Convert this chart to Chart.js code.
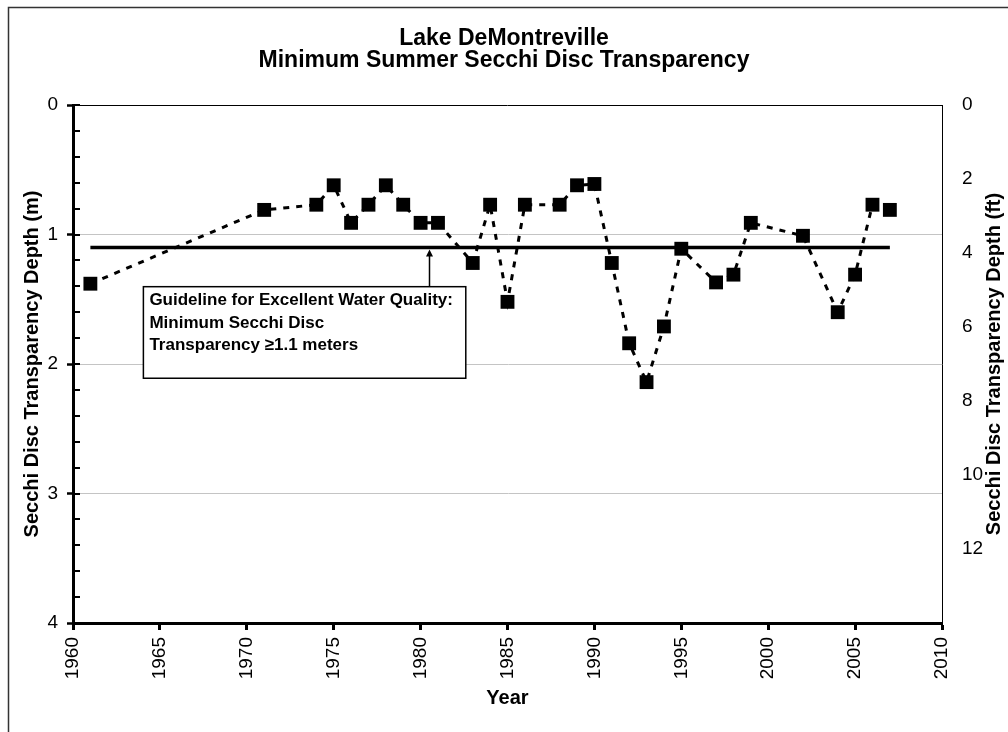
<!DOCTYPE html>
<html>
<head>
<meta charset="utf-8">
<title>Lake DeMontreville - Secchi</title>
<script src="https://cdn.jsdelivr.net/npm/chart.js@4.4.0/dist/chart.umd.min.js"></script>
<style>
  html, body { margin: 0; padding: 0; background: #fff; }
  canvas { display: block; }
</style>
</head>
<body>
<canvas id="secchiChart" width="1008" height="732"></canvas>
<script>
// Datos
const years = [1961, 1971, 1974, 1975, 1976, 1977, 1978, 1979, 1980, 1981,
               1983, 1984, 1985, 1986, 1988, 1989, 1990, 1991, 1992, 1993,
               1994, 1995, 1997, 1998, 1999, 2002, 2004, 2005, 2006, 2007];
const secchiDepth = [1.38, 0.81, 0.77, 0.62, 0.91, 0.77, 0.62, 0.77, 0.91, 0.91,
                     1.22, 0.77, 1.52, 0.77, 0.77, 0.62, 0.61, 1.22, 1.84, 2.14,
                     1.71, 1.11, 1.37, 1.31, 0.91, 1.01, 1.60, 1.31, 0.77, 0.81];

// Línea guía (1.1 m)
const guideYears = [1961, 2007];
const guideValue = 1.1;

const titleLines = ['Lake DeMontreville', 'Minimum Summer Secchi Disc Transparency'];
const noteLines = ['Guideline for Excellent Water Quality:', 'Minimum Secchi Disc', 'Transparency \u22651.1 meters'];
const yTitleLeft = 'Secchi Disc Transparency Depth (m)';
const yTitleRight = 'Secchi Disc Transparency Depth (ft)';
const xTitle = 'Year';

const FONT = "'Liberation Sans', Arial, sans-serif";
Chart.defaults.font.family = FONT;
Chart.defaults.color = '#000';

// Plugin: marco, ticks menores, título derecho y cuadro de texto
const extras = {
    id: 'extras',
    beforeDraw(chart) {
        const ctx = chart.ctx;
        ctx.save();
        ctx.fillStyle = '#fff';
        ctx.fillRect(0, 0, chart.width, chart.height);
        ctx.restore();
    },
    afterDraw(chart) {
        const ctx = chart.ctx;
        const a = chart.chartArea;
        const x = chart.scales.x;
        const y = chart.scales.y;
        ctx.save();

        // Borde exterior (el derecho y el inferior quedan fuera de la imagen)
        ctx.strokeStyle = '#333';
        ctx.lineWidth = 1.5;
        ctx.strokeRect(8.5, 7.5, 1010, 760);

        // Borde superior del área
        ctx.strokeStyle = '#000';
        ctx.lineWidth = 1;
        ctx.beginPath();
        ctx.moveTo(a.left, a.top + 0.5);
        ctx.lineTo(a.right, a.top + 0.5);
        ctx.stroke();

        // Ticks menores hacia dentro
        ctx.lineWidth = 2;
        for (let i = 0; i <= 20; i++) {
            const py = Math.round(y.getPixelForValue(i * 0.2));
            ctx.beginPath();
            ctx.moveTo(a.left, py);
            ctx.lineTo(a.left + 7, py);
            ctx.stroke();
        }

        // Título del eje derecho (de abajo hacia arriba)
        ctx.font = 'bold 20px ' + FONT;
        ctx.fillStyle = '#000';
        ctx.textAlign = 'center';
        ctx.textBaseline = 'middle';
        ctx.translate(994, (a.top + a.bottom) / 2);
        ctx.rotate(-Math.PI / 2);
        ctx.fillText(yTitleRight, 0, 0);
        ctx.restore();

        // Cuadro de la guía
        ctx.save();
        const bx1 = x.getPixelForValue(1964.05);
        const bx2 = x.getPixelForValue(1982.6);
        const by1 = y.getPixelForValue(1.403);
        const by2 = y.getPixelForValue(2.11);
        ctx.fillStyle = '#fff';
        ctx.fillRect(bx1, by1, bx2 - bx1, by2 - by1);
        ctx.strokeStyle = '#000';
        ctx.lineWidth = 1.5;
        ctx.strokeRect(bx1, by1, bx2 - bx1, by2 - by1);

        ctx.font = 'bold 17px ' + FONT;
        ctx.fillStyle = '#000';
        ctx.textAlign = 'left';
        ctx.textBaseline = 'middle';
        noteLines.forEach((t, i) => {
            ctx.fillText(t, bx1 + 6, by1 + 13.5 + i * 22.7);
        });

        // Flecha
        const ax = Math.round(x.getPixelForValue(1980.5)) + 0.5;
        const tip = y.getPixelForValue(1.115);
        ctx.lineWidth = 1.5;
        ctx.beginPath();
        ctx.moveTo(ax, by1);
        ctx.lineTo(ax, tip + 4);
        ctx.stroke();
        ctx.beginPath();
        ctx.moveTo(ax, tip);
        ctx.lineTo(ax - 3.5, tip + 7);
        ctx.lineTo(ax + 3.5, tip + 7);
        ctx.closePath();
        ctx.fill();
        ctx.restore();
    }
};

const ctx = document.getElementById('secchiChart').getContext('2d');

new Chart(ctx, {
    type: 'scatter',
    data: {
        datasets: [{
            label: 'Secchi',
            data: years.map((yr, i) => ({ x: yr, y: secchiDepth[i] })),
            showLine: true,
            borderColor: '#000',
            borderWidth: 3,
            borderDash: [6, 7],
            pointStyle: 'rect',
            pointRadius: 9.8,
            pointBackgroundColor: '#000',
            pointBorderWidth: 0,
            yAxisID: 'y'
        }, {
            label: 'Guideline',
            data: guideYears.map(yr => ({ x: yr, y: guideValue })),
            showLine: true,
            borderColor: '#000',
            borderWidth: 3.5,
            pointRadius: 0,
            yAxisID: 'y'
        }]
    },
    options: {
        responsive: false,
        animation: false,
        devicePixelRatio: 1,
        layout: { padding: 0 },
        plugins: {
            legend: { display: false },
            tooltip: { enabled: false },
            title: {
                display: true,
                text: titleLines,
                font: { size: 23, weight: 'bold', lineHeight: 22 / 23 },
                color: '#000',
                padding: { top: 28, bottom: 33 }
            }
        },
        scales: {
            x: {
                type: 'linear',
                min: 1960,
                max: 2010,
                ticks: {
                    stepSize: 5,
                    autoSkip: false,
                    minRotation: 90,
                    maxRotation: 90,
                    padding: 7,
                    font: { size: 19 },
                    callback: v => String(v)
                },
                grid: {
                    drawOnChartArea: false,
                    drawTicks: true,
                    tickLength: 7,
                    tickWidth: 3,
                    tickColor: '#000'
                },
                border: { display: true, color: '#000', width: 3 },
                title: {
                    display: true,
                    text: xTitle,
                    font: { size: 20, weight: 'bold' },
                    padding: { top: 0, bottom: 22 }
                },
                afterFit: s => { s.height = 109; }
            },
            y: {
                position: 'left',
                reverse: true,
                min: 0,
                max: 4,
                ticks: {
                    stepSize: 1,
                    padding: 9,
                    font: { size: 19 }
                },
                grid: {
                    color: c => (c.tick && (c.tick.value === 0 || c.tick.value === 4)) ? 'rgba(0,0,0,0)' : '#c4c4c4',
                    lineWidth: 1,
                    tickLength: 6,
                    tickWidth: 2.5,
                    tickColor: '#000'
                },
                border: { display: true, color: '#000', width: 3 },
                title: {
                    display: true,
                    text: yTitleLeft,
                    font: { size: 20, weight: 'bold' },
                    padding: { top: 20, bottom: 0 }
                },
                afterFit: s => { s.width = 73; }
            },
            y2: {
                position: 'right',
                reverse: true,
                min: 0,
                max: 14,
                ticks: {
                    stepSize: 2,
                    padding: 20,
                    font: { size: 19 },
                    callback: v => (v === 14 ? '' : String(v))
                },
                grid: { drawOnChartArea: false, drawTicks: false },
                border: { display: true, color: '#000', width: 1 },
                afterFit: s => { s.width = 66; }
            }
        }
    },
    plugins: [extras]
});
</script>
</body>
</html>
